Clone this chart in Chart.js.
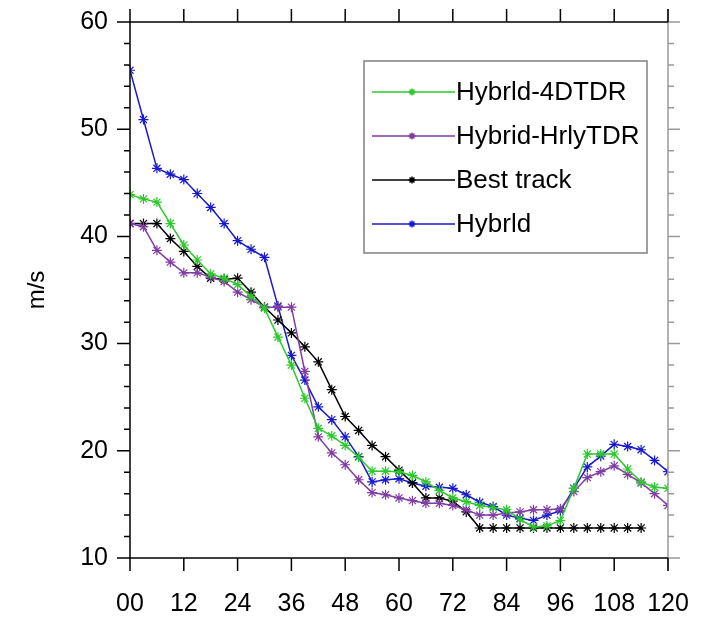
<!DOCTYPE html>
<html>
<head>
<meta charset="utf-8">
<script src="https://cdn.jsdelivr.net/npm/chart.js@4.4.1/dist/chart.umd.min.js"></script>
<style>
  html, body { margin: 0; padding: 0; background: #fff; }
  #wrap { width: 704px; height: 621px; }
</style>
</head>
<body>
<div id="wrap"><canvas id="c" width="704" height="621"></canvas></div>
<script>
// forecast hours
const hours = [0, 3, 6, 9, 12, 15, 18, 21, 24, 27, 30, 33, 36, 39, 42, 45, 48, 51, 54, 57, 60,
  63, 66, 69, 72, 75, 78, 81, 84, 87, 90, 93, 96, 99, 102, 105, 108, 111, 114, 117, 120];

// wind speed (m/s) per series
const hybrid4dtdr = [43.9, 43.5, 43.2, 41.2, 39.2, 37.8, 36.5, 36.1, 35.5, 34.4, 33.3, 30.6, 28.0,
  24.9, 22.1, 21.4, 20.5, 19.4, 18.1, 18.1, 18.05, 17.7, 17.1, 16.3, 15.6, 15.25, 14.9, 14.7,
  14.5, 13.6, 12.9, 13.0, 13.5, 16.5, 19.7, 19.7, 19.7, 18.3, 17.1, 16.6, 16.5];
const hybridHrly = [41.2, 40.9, 38.7, 37.6, 36.6, 36.6, 36.2, 35.8, 34.8, 34.1, 33.4, 33.4, 33.4,
  27.4, 21.3, 19.8, 18.7, 17.3, 16.1, 15.9, 15.6, 15.35, 15.1, 15.1, 14.9, 14.5, 14.0, 14.0,
  14.2, 14.3, 14.5, 14.5, 14.6, 16.2, 17.5, 18.05, 18.6, 17.8, 17.0, 16.0, 14.9];
const bestTrack = [41.2, 41.2, 41.2, 39.8, 38.6, 37.2, 36.1, 36.0, 36.1, 34.8, 33.4, 32.2, 31.0,
  29.7, 28.3, 25.7, 23.2, 21.9, 20.5, 19.45, 18.2, 17.0, 15.6, 15.6, 15.3, 14.3, 12.8, 12.8,
  12.8, 12.8, 12.8, 12.8, 12.8, 12.8, 12.8, 12.8, 12.8, 12.8, 12.8, null, null];
const hybrid = [55.5, 50.9, 46.35, 45.8, 45.3, 44.0, 42.7, 41.2, 39.6, 38.8, 38.05, 33.5, 28.9,
  26.6, 24.1, 22.9, 21.3, 19.45, 17.1, 17.3, 17.4, 17.0, 16.7, 16.6, 16.5, 15.9, 15.2, 14.8,
  14.0, 13.7, 13.5, 14.0, 14.4, 16.5, 18.5, 19.5, 20.6, 20.4, 20.1, 19.1, 18.05];

const seriesNames = ['Hybrld-4DTDR', 'Hybrid-HrlyTDR', 'Best track', 'Hybrld'];
const xTicks = [0, 12, 24, 36, 48, 60, 72, 84, 96, 108, 120];

const FONT = '"Liberation Sans", Arial, sans-serif';

function pts(vals) {
  return hours.map((h, i) => ({ x: h, y: vals[i] }));
}

function makeSet(label, vals, color) {
  return {
    label: label,
    data: pts(vals),
    borderColor: color,
    backgroundColor: color,
    borderWidth: 1.5,
    pointStyle: 'star',
    pointRadius: 5,
    pointBorderWidth: 1.2,
    pointBorderColor: color,
    pointHoverRadius: 5,
    tension: 0,
    spanGaps: false
  };
}

// frame, ticks on all four sides
const framePlugin = {
  id: 'frame',
  afterDraw(chart) {
    const { ctx, chartArea: a, scales } = chart;
    const xs = scales.x, ys = scales.y;
    ctx.save();
    ctx.lineWidth = 1.5;
    ctx.lineCap = 'butt';

    // right side (gray)
    ctx.strokeStyle = '#9a9a9a';
    ctx.beginPath();
    ctx.moveTo(a.right, a.top - 13);
    ctx.lineTo(a.right, a.bottom + 13);
    for (let v = 10; v <= 60; v += 2) {
      const y = ys.getPixelForValue(v);
      ctx.moveTo(a.right, y);
      ctx.lineTo(a.right + (v % 10 === 0 ? 12 : 6), y);
    }
    ctx.stroke();

    ctx.strokeStyle = '#000';
    ctx.beginPath();
    ctx.moveTo(a.left, a.top - 13);
    ctx.lineTo(a.left, a.bottom + 13);
    ctx.moveTo(a.left, a.top);
    ctx.lineTo(a.right, a.top);
    ctx.moveTo(a.left, a.bottom);
    ctx.lineTo(a.right, a.bottom);
    xTicks.forEach(v => {
      const x = xs.getPixelForValue(v);
      ctx.moveTo(x, a.top);
      ctx.lineTo(x, a.top - 13);
      ctx.moveTo(x, a.bottom);
      ctx.lineTo(x, a.bottom + 13);
    });
    for (let v = 10; v <= 60; v += 2) {
      const y = ys.getPixelForValue(v);
      ctx.moveTo(a.left, y);
      ctx.lineTo(a.left - (v % 10 === 0 ? 13 : 6), y);
    }
    ctx.stroke();
    ctx.restore();
  }
};

// legend box inside the plot
const legendPlugin = {
  id: 'boxLegend',
  afterDraw(chart) {
    const ctx = chart.ctx;
    const bx = 364, by = 61, bw = 283, bh = 192;
    ctx.save();
    ctx.fillStyle = '#fff';
    ctx.fillRect(bx, by, bw, bh);
    ctx.strokeStyle = '#808080';
    ctx.lineWidth = 1.5;
    ctx.strokeRect(bx, by, bw, bh);
    ctx.font = '26px ' + FONT;
    ctx.textBaseline = 'middle';
    ctx.textAlign = 'left';
    chart.data.datasets.forEach((ds, i) => {
      const y = 92 + i * 44;
      ctx.strokeStyle = ds.borderColor;
      ctx.lineWidth = 1.5;
      ctx.beginPath();
      ctx.moveTo(372, y);
      ctx.lineTo(455, y);
      ctx.stroke();
      Chart.helpers.drawPoint(ctx, { pointStyle: 'star', radius: 3.5, borderWidth: 1.2 }, 412, y);
      ctx.fillStyle = '#000';
      ctx.fillText(ds.label, 456, y + 1);
    });
    ctx.restore();
  }
};

const ctx = document.getElementById('c').getContext('2d');
new Chart(ctx, {
  type: 'line',
  data: {
    datasets: [
      makeSet(seriesNames[0], hybrid4dtdr, 'rgb(45, 200, 45)'),
      makeSet(seriesNames[1], hybridHrly, 'rgb(128, 60, 165)'),
      makeSet(seriesNames[2], bestTrack, 'rgb(0, 0, 0)'),
      makeSet(seriesNames[3], hybrid, 'rgb(25, 25, 205)')
    ]
  },
  options: {
    responsive: false,
    animation: false,
    layout: { padding: { top: 22, right: 36, left: 23, bottom: 0 } },
    plugins: {
      legend: { display: false },
      tooltip: { enabled: false }
    },
    scales: {
      x: {
        type: 'linear',
        min: 0,
        max: 120,
        border: { display: false },
        grid: { display: false, drawTicks: false },
        afterFit: s => { s.height = 63; s.paddingLeft = 0; s.paddingRight = 0; },
        afterBuildTicks: s => { s.ticks = xTicks.map(v => ({ value: v })); },
        ticks: {
          autoSkip: false,
          maxRotation: 0,
          padding: 31,
          color: '#000',
          font: { family: FONT, size: 25 },
          callback: v => String(v).padStart(2, '0')
        }
      },
      y: {
        min: 10,
        max: 60,
        border: { display: false },
        grid: { display: false, drawTicks: false },
        afterFit: s => { s.width = 107; s.paddingTop = 0; s.paddingBottom = 0; },
        ticks: {
          stepSize: 10,
          padding: 22,
          color: '#000',
          font: { family: FONT, size: 25 }
        },
        title: {
          display: true,
          text: 'm/s',
          color: '#000',
          font: { family: FONT, size: 24 },
          padding: { top: 0, bottom: 0 }
        }
      }
    }
  },
  plugins: [framePlugin, legendPlugin]
});
</script>
</body>
</html>
